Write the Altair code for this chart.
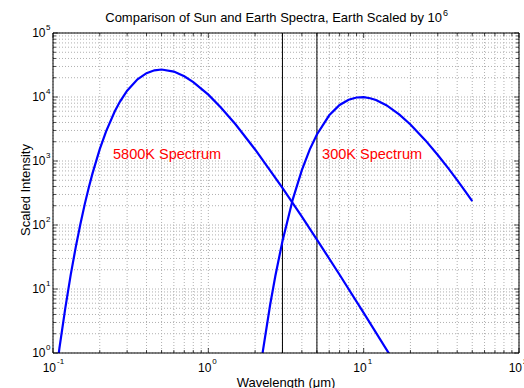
import altair as alt
import pandas as pd

# ---- data ----
sun_wavelength = [0.1, 0.11, 0.12, 0.13, 0.14, 0.15, 0.16, 0.17, 0.18, 0.2, 0.22, 0.25, 0.27,
                  0.3, 0.35, 0.4, 0.45, 0.5, 0.6, 0.7, 0.8, 1.0, 1.2, 1.5, 2, 3, 4, 5, 7, 10, 15, 20]
sun_intensity = [0.20, 1.19, 5.03, 16.6, 44.7, 103, 210, 386, 652, 1528, 2929, 5981, 8490,
                 12567, 18957, 23611, 26149, 26877, 24921, 21090, 17129, 10877, 6933, 3711, 1515,
                 381, 135, 59.3, 16.7, 4.23, 0.872, 0.282]

earth_wavelength = [2, 2.2, 2.5, 2.7, 3, 3.5, 4, 4.5, 5, 6, 7, 8, 9, 10, 11, 12, 14, 17, 20,
                    25, 30, 35, 40, 45, 50]
earth_intensity = [0.143, 0.787, 5.68, 16.0, 55.9, 254, 722, 1518, 2602, 5174, 7505, 9077, 9829,
                   9922, 9572, 8960, 7445, 5310, 3722, 2099, 1242, 772, 502, 339, 237]

window_edges = [3, 5]

label_text = ["5800K Spectrum", "300K Spectrum"]
label_x = [0.2435, 5.40]
label_y = [1075, 1075]

x_major = [0.1, 1, 10, 100]
x_exponent = ["-1", "0", "1", "2"]
y_major = [1, 10, 100, 1000, 10000, 100000]
y_exponent = ["0", "1", "2", "3", "4", "5"]

title_main = "Comparison of Sun and Earth Spectra, Earth Scaled by 10"
title_sup = "6"
x_title = "Wavelength (\u03bcm)"
y_title = "Scaled Intensity"

# ---- layout ----
W, H = 466, 320
FONT = "Liberation Sans"
GRID = "#b0b0b0"

x_minor = [m * 10.0 ** e for e in (-1, 0, 1) for m in range(2, 10)]
y_minor = [m * 10.0 ** e for e in range(0, 5) for m in range(2, 10)]

xscale = alt.Scale(type="log", domain=[0.1, 100], nice=False)
yscale = alt.Scale(type="log", domain=[1, 100000], nice=False)

curves = pd.DataFrame({
    "wavelength": sun_wavelength + earth_wavelength,
    "intensity": sun_intensity + earth_intensity,
    "series": ["sun"] * len(sun_wavelength) + ["earth"] * len(earth_wavelength),
})

def X(field):
    return alt.X(field, scale=xscale, axis=None)

def Y(field):
    return alt.Y(field, scale=yscale, axis=None)

# dotted grid (major + minor)
xgrid = alt.Chart(pd.DataFrame({"v": x_major + x_minor})).mark_rule(
    color=GRID, strokeWidth=1, strokeDash=[1, 2]).encode(x=X("v:Q"))
ygrid = alt.Chart(pd.DataFrame({"v": y_major + y_minor})).mark_rule(
    color=GRID, strokeWidth=1, strokeDash=[1, 2]).encode(y=Y("v:Q"))

# inward ticks on all four sides
def xticks(values, length):
    df = pd.DataFrame({"v": values})
    bottom = alt.Chart(df).mark_tick(color="black", size=length, thickness=1).encode(
        x=X("v:Q"), y=alt.value(H - length / 2))
    top = alt.Chart(df).mark_tick(color="black", size=length, thickness=1).encode(
        x=X("v:Q"), y=alt.value(length / 2))
    return [bottom, top]

def yticks(values, length):
    df = pd.DataFrame({"v": values})
    left = alt.Chart(df).mark_tick(color="black", size=length, thickness=1).encode(
        y=Y("v:Q"), x=alt.value(length / 2))
    right = alt.Chart(df).mark_tick(color="black", size=length, thickness=1).encode(
        y=Y("v:Q"), x=alt.value(W - length / 2))
    return [left, right]

tick_layers = xticks(x_major, 5) + xticks(x_minor, 3) + yticks(y_major, 5) + yticks(y_minor, 3)

edges = alt.Chart(pd.DataFrame({"edge": window_edges})).mark_rule(
    color="black", strokeWidth=1).encode(x=X("edge:Q"))

lines = alt.Chart(curves).mark_line(color="#0000ff", strokeWidth=2.2, clip=True).encode(
    x=X("wavelength:Q"), y=Y("intensity:Q"), detail="series:N")

border = alt.Chart(pd.DataFrame({"b": [0]})).mark_rect(
    fill=None, fillOpacity=0, stroke="black", strokeWidth=1).encode(
    x=alt.value(0), x2=alt.value(W), y=alt.value(0), y2=alt.value(H))

labels = alt.Chart(pd.DataFrame({"x": label_x, "y": label_y, "t": label_text})).mark_text(
    color="#ff0000", align="left", baseline="alphabetic", font=FONT, fontSize=14.5).encode(
    x=X("x:Q"), y=Y("y:Q"), text="t:N")

xlab_df = pd.DataFrame({"v": x_major, "e": x_exponent})
xlab_base = alt.Chart(xlab_df).mark_text(align="right", baseline="alphabetic", dx=3,
                                         font=FONT, fontSize=12, color="black").encode(
    x=X("v:Q"), y=alt.value(H + 19), text=alt.value("10"))
xlab_exp = alt.Chart(xlab_df).mark_text(align="left", baseline="alphabetic", dx=4,
                                        font=FONT, fontSize=8, color="black").encode(
    x=X("v:Q"), y=alt.value(H + 11), text="e:N")

ylab_df = pd.DataFrame({"v": y_major, "e": y_exponent})
ylab_base = alt.Chart(ylab_df).mark_text(align="right", baseline="alphabetic", dy=4,
                                         font=FONT, fontSize=12, color="black").encode(
    y=Y("v:Q"), x=alt.value(-7.5), text=alt.value("10"))
ylab_exp = alt.Chart(ylab_df).mark_text(align="left", baseline="alphabetic", dy=-3,
                                        font=FONT, fontSize=8, color="black").encode(
    y=Y("v:Q"), x=alt.value(-7), text="e:N")

title1 = alt.Chart(pd.DataFrame({"t": [title_main]})).mark_text(
    align="right", baseline="alphabetic", font=FONT, fontSize=13, color="black").encode(
    x=alt.value(389), y=alt.value(-11), text="t:N")
title2 = alt.Chart(pd.DataFrame({"t": [title_sup]})).mark_text(
    align="left", baseline="alphabetic", font=FONT, fontSize=9, color="black").encode(
    x=alt.value(390), y=alt.value(-17), text="t:N")

xtitle = alt.Chart(pd.DataFrame({"t": [x_title]})).mark_text(
    align="center", baseline="alphabetic", font=FONT, fontSize=13, color="black").encode(
    x=alt.value(W / 2), y=alt.value(H + 33.5), text="t:N")
ytitle = alt.Chart(pd.DataFrame({"t": [y_title]})).mark_text(
    align="center", baseline="middle", angle=270, font=FONT, fontSize=13, color="black").encode(
    x=alt.value(-27.5), y=alt.value(157), text="t:N")

chart = alt.layer(
    xgrid, ygrid, *tick_layers, edges, lines, border, labels,
    xlab_base, xlab_exp, ylab_base, ylab_exp, title1, title2, xtitle, ytitle,
).properties(
    width=W, height=H,
    padding={"left": 53, "top": 33, "right": 5, "bottom": 35},
    autosize=alt.AutoSizeParams(type="none"),
    background="white",
).configure_view(stroke=None)

chart.save("out.html", embed_options={"renderer": "svg", "actions": False})
